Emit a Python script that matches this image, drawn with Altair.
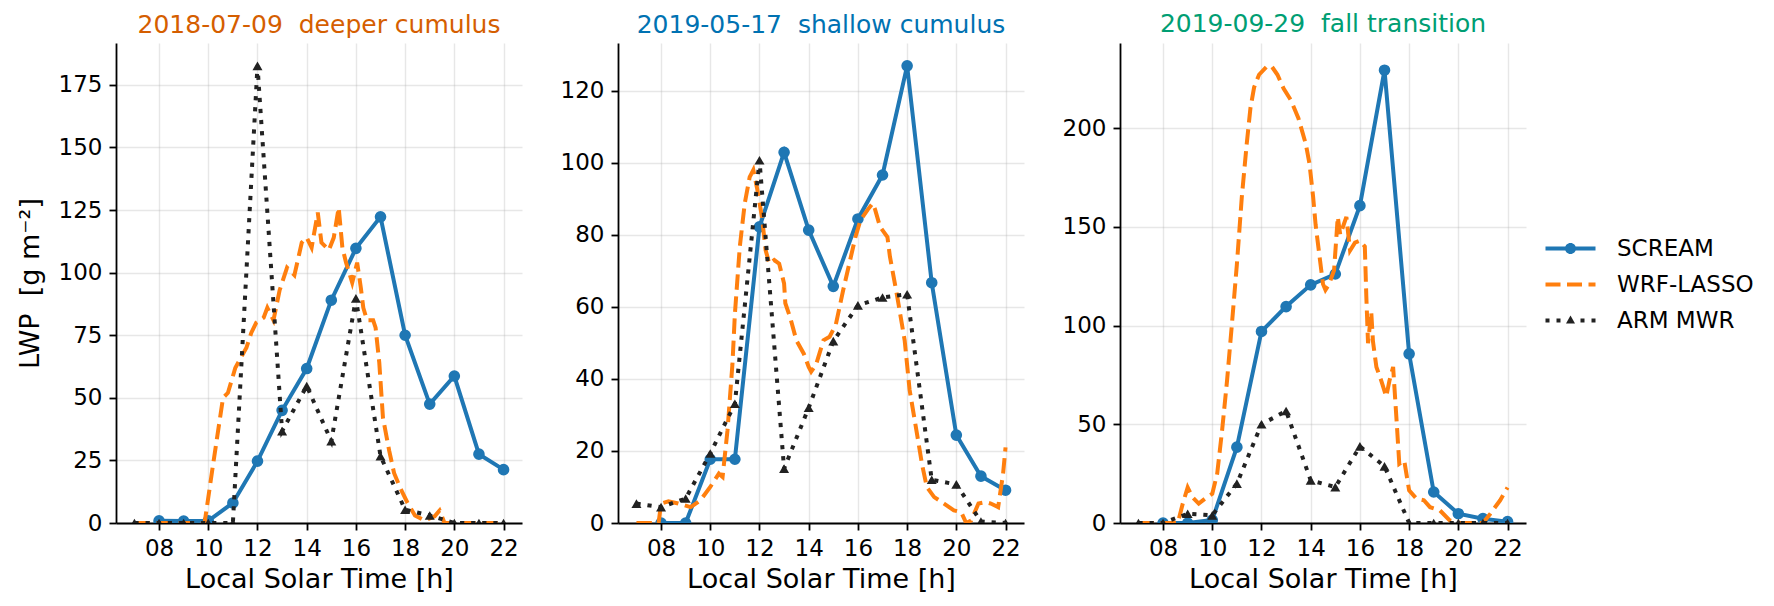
import altair as alt
import pandas as pd

SERIES = ["SCREAM", "WRF-LASSO", "ARM MWR"]
COLORS = ["#1f77b4", "#ff7f0e", "#222222"]
FONT = "DejaVu Sans"

# ---- 2018-07-09 deeper cumulus ----
scream_h = list(range(8, 23))
scream_0709 = [0.9, 0.8, 0.9, 8, 24.7, 45, 61.7, 89, 109.7, 122.3, 75, 47.5, 58.7, 27.5, 21.3]
arm_h = list(range(7, 23))
arm_0709 = [0, 0, 0, 0, 0, 182.6, 36.7, 54.7, 32.7, 89.7, 26.7, 5.3, 3, 0, 0, 0]
wrf_t_0709 = [7.0, 9.85, 10.2, 10.6, 10.8, 11.1, 11.55, 11.75, 11.95, 12.25, 12.4, 12.65, 12.9,
              13.2, 13.5, 13.8, 14.0, 14.2, 14.45, 14.6, 14.9, 15.1, 15.3, 15.45, 15.6, 15.85,
              16.05, 16.2, 16.3, 16.45, 16.7, 16.8, 16.95, 17.1, 17.35, 17.55, 17.8, 18.1, 18.4,
              18.8, 19.2, 19.4, 19.6, 22.0]
wrf_0709 = [0, 0, 23.7, 50, 52, 62, 70, 76, 80, 82, 86, 81, 93,
            102, 99, 112, 114, 110, 124, 112, 109, 114, 126, 110, 104, 96,
            104, 94, 86, 81, 81, 78, 64, 42, 29, 20, 14, 8, 3,
            1, 2.7, 5, 0, 0]

# ---- 2019-05-17 shallow cumulus ----
scream_0517 = [0, 0, 17.7, 17.7, 82.2, 102.9, 81.3, 65.7, 84.4, 96.6, 126.9, 66.7, 24.4, 13, 9.1]
arm_0517 = [5.4, 4.4, 6.8, 19.3, 33.1, 100.7, 15.1, 32, 50.5, 60.4, 62.6, 63.5, 12, 10.7, 0.4, 0]
wrf_t_0517 = [7.0, 7.9, 8.0, 8.3, 8.7, 9.2, 9.6, 10.0, 10.35, 10.5, 10.7, 10.9, 11.0, 11.2,
              11.4, 11.6, 11.75, 11.9, 12.1, 12.25, 12.4, 12.6, 12.8, 13.0, 13.05, 13.25, 13.5,
              13.8, 14.0, 14.1, 14.3, 14.6, 14.85, 15.1, 15.4, 15.65, 15.9, 16.1, 16.4, 16.6,
              16.7, 16.9, 17.2, 17.3, 17.6, 17.9, 18.1, 18.4, 18.6, 18.8, 19.1, 19.5, 19.9,
              20.2, 20.4, 20.6, 20.9, 21.2, 21.4, 21.7, 21.9, 22.0]
wrf_0517 = [0, 0, 5.4, 6, 5.4, 4.4, 6.3, 10, 13.7, 12.8, 25.7, 44, 58, 76.7,
            88.7, 96, 98, 93, 85, 75.7, 72, 73, 72, 66.5, 61, 57, 50.7,
            47, 43.3, 42, 44, 50.7, 51.7, 55, 64.6, 72, 79.4, 84, 87, 88.7,
            87, 82.2, 79.4, 74, 62.8, 50.7, 37, 24.8, 16.5, 10, 7.2, 5.4, 3.5,
            3, 0, 0.7, 5.4, 5.8, 5.4, 4.4, 13.7, 21]

# ---- 2019-09-29 fall transition ----
scream_0929 = [0, 0, 1.5, 38.4, 97, 109.6, 120.6, 126.1, 160.7, 229.3, 85.7, 15.7, 4.7, 2.2, 0.7]
arm_0929 = [0, 0, 4.7, 3.9, 19.9, 50, 56.7, 21.6, 18.2, 38.8, 28.7, 0, 0, 0, 0, 0]
wrf_t_0929 = [7.0, 8.6, 8.8, 9.0, 9.2, 9.45, 9.7, 10.0, 10.2, 10.4, 10.6, 10.8, 11.0, 11.2,
              11.4, 11.55, 11.7, 11.9, 12.2, 12.4, 12.65, 12.9, 13.2, 13.5, 13.8, 13.95, 14.1,
              14.2, 14.35, 14.5, 14.6, 14.75, 14.95, 15.1, 15.2, 15.45, 15.6, 15.8, 16.0, 16.2,
              16.26, 16.33, 16.46, 16.53, 16.67, 16.87, 17.07, 17.2, 17.35, 17.5, 17.6, 17.8,
              18.0, 18.3, 18.6, 18.85, 19.25, 19.65, 20.07, 21.0, 21.3, 21.7, 22.0]
wrf_0929 = [0, 0, 9.8, 18, 13, 9.8, 12.3, 14.8, 25, 47, 72, 101, 131, 165,
            192, 210, 220.6, 227, 231, 231.5, 227, 220, 214, 205, 192, 182, 165,
            151, 136, 121, 118, 121, 128, 155, 146, 155, 138, 142, 143, 140,
            115, 91, 107, 92, 79, 72, 64, 72, 79, 50, 30, 31.7,
            16.5, 12.3, 11.5, 8, 6.4, 1.3, 0, 0, 4.7, 11.5, 18]

CASES = [
    ("2018-07-09\u00a0\u00a0deeper cumulus", "#d55e00", [0, 25, 50, 75, 100, 125, 150, 175],
     scream_0709, wrf_t_0709, wrf_0709, arm_0709),
    ("2019-05-17\u00a0\u00a0shallow cumulus", "#0072b2", [0, 20, 40, 60, 80, 100, 120],
     scream_0517, wrf_t_0517, wrf_0517, arm_0517),
    ("2019-09-29\u00a0\u00a0fall transition", "#009e73", [0, 50, 100, 150, 200],
     scream_0929, wrf_t_0929, wrf_0929, arm_0929),
]

Y_TITLE = "LWP\u00a0\u00a0[g m\u207b\u00b2]"

# legend glyphs: line segment(s) with the series marker, in symbol units
LEGEND_PATHS = [
    "M-2.5,-0.2L2.5,-0.2L2.5,0.2L-2.5,0.2Z"
    "M-0.55,0A0.55,0.55 0 1,1 0.55,0A0.55,0.55 0 1,1 -0.55,0Z",
    "M-2.5,-0.2L-1.0,-0.2L-1.0,0.2L-2.5,0.2Z"
    "M-0.35,-0.2L1.15,-0.2L1.15,0.2L-0.35,0.2Z"
    "M1.8,-0.2L2.5,-0.2L2.5,0.2L1.8,0.2Z",
    "M-2.5,-0.2L-2.1,-0.2L-2.1,0.2L-2.5,0.2Z"
    "M-1.4,-0.2L-1.0,-0.2L-1.0,0.2L-1.4,0.2Z"
    "M1.0,-0.2L1.4,-0.2L1.4,0.2L1.0,0.2Z"
    "M2.1,-0.2L2.5,-0.2L2.5,0.2L2.1,0.2Z"
    "M0,-0.5L0.45,0.3L-0.45,0.3Z",
]

PANEL_W, PANEL_H = 406, 480


def make_panel(i, case):
    title, tcolor, yticks, scream, wrf_t, wrf_v, arm = case
    ymax = 1.05 * max(max(scream), max(wrf_v), max(arm))

    x_enc = alt.X(
        "hour:Q",
        scale=alt.Scale(domain=[6.25, 22.75], nice=False, zero=False),
        axis=alt.Axis(
            values=list(range(8, 23, 2)),
            labelExpr="datum.value < 10 ? '0' + datum.value : '' + datum.value",
            title="Local Solar Time [h]",
        ),
    )
    y_enc = alt.Y("lwp:Q", scale=alt.Scale(domain=[0, ymax], nice=False, zero=True),
                  axis=alt.Axis(values=yticks), title=Y_TITLE if i == 0 else "")

    df_s = pd.DataFrame({"hour": scream_h, "lwp": scream})
    df_w = pd.DataFrame({"hour": wrf_t, "lwp": wrf_v})
    df_a = pd.DataFrame({"hour": arm_h, "lwp": arm})

    s_line = alt.Chart(df_s).mark_line(color=COLORS[0], strokeWidth=4, clip=True).encode(x=x_enc, y=y_enc)
    s_pts = alt.Chart(df_s).mark_point(color=COLORS[0], filled=True, opacity=1, size=135,
                                       shape="circle", clip=True).encode(x=x_enc, y=y_enc)
    w_line = alt.Chart(df_w).mark_line(color=COLORS[1], strokeWidth=4, strokeDash=[15.4, 6.7],
                                       clip=True).encode(x=x_enc, y=y_enc)
    a_line = alt.Chart(df_a).mark_line(color=COLORS[2], strokeWidth=4, strokeDash=[4.2, 6.9],
                                       clip=True).encode(x=x_enc, y=y_enc)
    a_pts = alt.Chart(df_a).mark_point(color=COLORS[2], filled=True, opacity=1, size=100,
                                       shape="triangle-up", clip=True).encode(x=x_enc, y=y_enc)
    layers = [s_line, s_pts, w_line, a_line, a_pts]

    if i == 2:
        key = alt.Chart(pd.DataFrame({"series": SERIES})).mark_point(
            filled=True, opacity=0
        ).encode(
            x=alt.value(0),
            y=alt.value(0),
            color=alt.Color("series:N", scale=alt.Scale(domain=SERIES, range=COLORS),
                            legend=alt.Legend(title=None)),
            shape=alt.Shape("series:N", scale=alt.Scale(domain=SERIES, range=LEGEND_PATHS),
                            legend=alt.Legend(title=None)),
        )
        layers.append(key)

    return alt.layer(*layers).properties(
        width=PANEL_W,
        height=PANEL_H,
        title=alt.TitleParams(title, color=tcolor, fontSize=25, fontWeight="normal",
                              anchor="middle", frame="group", offset=4.6, font=FONT),
    )


panels = [make_panel(i, c) for i, c in enumerate(CASES)]

chart = alt.hconcat(*panels, spacing=96, bounds="flush").properties(
    padding={"left": 16, "top": 11, "right": 5, "bottom": 5}
).configure(
    font=FONT,
).configure_view(
    strokeWidth=0,
).configure_axis(
    labelFont=FONT,
    labelFontSize=23,
    labelColor="black",
    labelPadding=7,
    titleFont=FONT,
    titleFontSize=27,
    titleFontWeight="normal",
    titleColor="black",
    domainColor="black",
    domainWidth=1.8,
    tickColor="black",
    tickWidth=1.8,
    tickSize=7,
    gridColor="#b0b0b0",
    gridOpacity=0.3,
    gridWidth=1.4,
).configure_axisX(
    titlePadding=6,
).configure_axisY(
    titlePadding=14,
).configure_legend(
    orient="none",
    legendX=1443,
    legendY=194,
    symbolSize=400,
    symbolOpacity=1,
    symbolStrokeWidth=0,
    labelFont=FONT,
    labelFontSize=23,
    labelColor="black",
    labelOffset=35,
    rowPadding=12,
)

chart.save("out.html", embed_options={"renderer": "svg", "actions": False})
